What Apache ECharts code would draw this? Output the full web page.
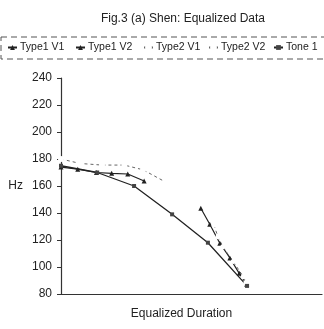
<!DOCTYPE html>
<html><head><meta charset="utf-8">
<script src="https://cdn.jsdelivr.net/npm/echarts@6/dist/echarts.min.js"></script>
<style>html,body{margin:0;padding:0;background:#fff}#c{width:324px;height:329px}</style>
</head><body><div id="c"></div>
<script>
var titleText = "Fig.3 (a) Shen: Equalized Data";
var yTicks = [80, 100, 120, 140, 160, 180, 200, 220, 240];
var seriesNames = ["Type1 V1", "Type1 V2", "Type2 V1", "Type2 V2", "Tone 1"];

var t1v1X = [0, 0.45, 0.95, 1.36, 1.79, 2.23];
var t1v1Y = [174, 172.5, 170, 169.4, 168.9, 163.7];

var t1v2X = [3.75, 3.99, 4.26, 4.53, 4.78, 4.98];
var t1v2Y = [143.5, 131.7, 117.6, 106.7, 95.3, 87.2];

var t2v1X = [0, 0.51, 1.1, 1.7, 2.2, 2.8];
var t2v1Y = [180, 176.7, 175.5, 175.5, 172, 163];

var t2v2X = [4.1, 4.21, 4.34, 4.62, 4.89, 4.96];
var t2v2Y = [131, 122.5, 115, 104, 92.8, 88.6];

var toneX = [0, 0.97, 1.96, 2.98, 3.94, 4.99];
var toneY = [175, 170, 160, 139, 118, 86];

function zip(xs, ys) { return xs.map(function (x, i) { return [x, ys[i]]; }); }

var font = "Liberation Sans, Arial, sans-serif";
var legendLefts = [7, 75, 143, 208, 273];
var legends = seriesNames.map(function (n, i) {
  return {
    data: [n], left: legendLefts[i], top: 42, padding: 0, itemGap: 0, itemWidth: 9, itemHeight: 6,
    textStyle: { fontFamily: font, fontSize: 10.5, color: '#222', padding: [0, 0, 0, -2] }
  };
});
var chart = echarts.init(document.getElementById('c'));
chart.setOption({
  animation: false,
  backgroundColor: '#fff',
  title: {
    text: titleText, left: 178, top: 8, textAlign: 'center',
    textStyle: { fontFamily: font, fontSize: 12, fontWeight: 'normal', color: '#222' }
  },
  graphic: [{
    type: 'rect', shape: { x: 1, y: 37, width: 340, height: 22 },
    style: { fill: 'none', stroke: '#555', lineWidth: 1, lineDash: [6, 4] }
  }],
  legend: legends,
  grid: { left: 61, top: 78, right: 2, bottom: 35 },
  xAxis: {
    type: 'value', min: 0, max: 7,
    name: 'Equalized Duration', nameLocation: 'middle', nameGap: 14,
    nameTextStyle: { fontFamily: font, fontSize: 12, color: '#222', padding: [0, 20, 0, 0] },
    axisLine: { lineStyle: { color: '#333', width: 1.2 } },
    axisTick: { show: false }, axisLabel: { show: false }, splitLine: { show: false }
  },
  yAxis: {
    type: 'value', min: yTicks[0], max: yTicks[yTicks.length - 1], interval: 20,
    name: 'Hz', nameLocation: 'middle', nameRotate: 0, nameGap: 38,
    nameTextStyle: { fontFamily: font, fontSize: 12, color: '#222', padding: [36, 0, 0, 0] },
    axisLine: { show: true, lineStyle: { color: '#333', width: 1.2 } },
    axisTick: { show: true, length: 4, lineStyle: { color: '#333' } },
    axisLabel: { fontFamily: font, fontSize: 12, color: '#222', margin: 9 },
    splitLine: { show: false }
  },
  series: [
    { name: seriesNames[0], type: 'line', data: zip(t1v1X, t1v1Y), symbol: 'triangle', symbolSize: 5,
      lineStyle: { color: '#222', width: 1.2 }, itemStyle: { color: '#222' } },
    { name: seriesNames[1], type: 'line', data: zip(t1v2X, t1v2Y), symbol: 'triangle', symbolSize: 5,
      lineStyle: { color: '#222', width: 1.2 }, itemStyle: { color: '#222' } },
    { name: seriesNames[2], type: 'line', data: zip(t2v1X, t2v1Y), symbol: 'emptyCircle', symbolSize: 4,
      lineStyle: { color: '#666', width: 1, type: [3, 3] }, itemStyle: { color: '#fff', borderColor: '#666' } },
    { name: seriesNames[3], type: 'line', data: zip(t2v2X, t2v2Y), symbol: 'emptyCircle', symbolSize: 3,
      lineStyle: { color: '#666', width: 1, type: [3, 3] }, itemStyle: { color: '#fff', borderColor: '#666' } },
    { name: seriesNames[4], type: 'line', data: zip(toneX, toneY), symbol: 'rect', symbolSize: 4,
      lineStyle: { color: '#222', width: 1.3 }, itemStyle: { color: '#444' } }
  ]
});
</script></body></html>
